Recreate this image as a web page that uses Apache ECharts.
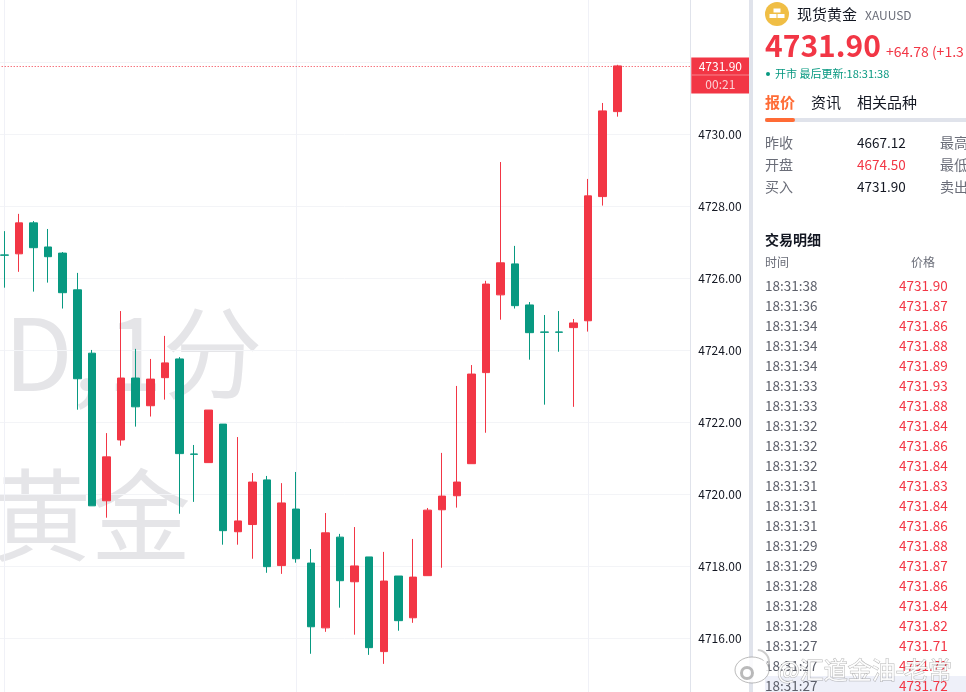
<!DOCTYPE html>
<html>
<head>
<meta charset="utf-8">
<style>html,body{margin:0;padding:0;background:#fff;overflow:hidden}#c{width:966px;height:692px}</style>
<script src="https://cdn.jsdelivr.net/npm/echarts@6/dist/echarts.min.js"></script>
</head>
<body>
<div id="c"></div>
<script>
const categories = ['17:49','17:50','17:51','17:52','17:53','17:54','17:55','17:56','17:57','17:58','17:59','18:00','18:01','18:02','18:03','18:04','18:05','18:06','18:07','18:08','18:09','18:10','18:11','18:12','18:13','18:14','18:15','18:16','18:17','18:18','18:19','18:20','18:21','18:22','18:23','18:24','18:25','18:26','18:27','18:28','18:29','18:30','18:31','18:32','18:33','18:34','18:35','18:36','18:37'];
const opens  = ['-',4726.65,4726.68,4727.54,4726.87,4726.70,4725.68,4723.92,4719.82,4721.51,4723.23,4722.46,4723.24,4723.76,4721.12,4720.88,4721.95,4718.96,4719.16,4720.40,4718.02,4719.59,4718.09,4716.29,4718.81,4717.57,4718.26,4715.63,4717.73,4716.57,4717.74,4719.57,4719.96,4720.85,4723.38,4725.54,4726.40,4725.26,4724.51,4724.51,4724.63,4724.82,4728.27,4730.63];
const closes = ['-',4726.64,4727.54,4726.85,4726.60,4725.60,4723.21,4719.68,4721.04,4723.23,4722.43,4723.20,4723.65,4721.13,4721.11,4722.34,4718.99,4719.26,4720.34,4717.99,4719.76,4718.21,4716.32,4718.93,4717.60,4718.01,4715.74,4717.59,4716.49,4717.70,4719.56,4719.95,4720.34,4723.34,4725.84,4726.43,4725.24,4724.49,4724.50,4724.50,4724.76,4728.29,4730.65,4731.90];
const lows   = ['-',4725.74,4726.18,4725.63,4725.88,4725.16,4722.35,4719.68,4719.35,4721.35,4721.88,4722.16,4722.63,4719.46,4719.79,4720.88,4718.60,4718.60,4718.21,4717.82,4717.79,4718.10,4715.57,4716.18,4716.85,4716.10,4715.54,4715.29,4716.21,4716.43,4717.74,4717.96,4719.63,4720.85,4721.71,4724.85,4725.16,4723.74,4722.49,4723.96,4722.43,4724.52,4728.02,4730.49];
const highs  = ['-',4727.31,4727.79,4727.59,4727.37,4726.73,4726.15,4724.01,4721.70,4725.09,4724.04,4723.76,4724.40,4723.81,4721.37,4722.34,4721.95,4721.59,4720.59,4720.51,4720.31,4720.62,4718.48,4719.48,4718.90,4719.09,4718.26,4718.40,4717.73,4718.76,4719.62,4721.15,4723.01,4723.59,4725.93,4729.23,4726.90,4725.34,4724.98,4725.09,4724.87,4728.76,4730.87,4731.93];
const lastPrice = 4731.90;
const priceLineLevel = 4731.885;
const countdown = '00:21';
const tradeTimes = ['18:31:38','18:31:36','18:31:34','18:31:34','18:31:34','18:31:33','18:31:33','18:31:32','18:31:32','18:31:32','18:31:31','18:31:31','18:31:31','18:31:29','18:31:29','18:31:28','18:31:28','18:31:28','18:31:27','18:31:27','18:31:27'];
const tradePrices = ['4731.90','4731.87','4731.86','4731.88','4731.89','4731.93','4731.88','4731.84','4731.86','4731.84','4731.83','4731.84','4731.86','4731.88','4731.87','4731.86','4731.84','4731.82','4731.71','4731.72','4731.72'];

const UP = '#F23645', DOWN = '#089981', FONT = '"Noto Sans CJK SC","Noto Sans",sans-serif';
const candles = opens.map((o, i) => [o, closes[i], lows[i], highs[i]]);

function txt(x, y, text, fill, size, extra) {
  return { type: 'text', x, y, z: 20, silent: true,
    style: Object.assign({ text, fill, font: (extra && extra.weight ? extra.weight + ' ' : '') + size + 'px ' + FONT, textVerticalAlign: 'middle', textAlign: 'left' }, extra && extra.style) };
}
const panel = [
  { type: 'rect', z: 10, silent: true, shape: { x: 749, y: 0, width: 217, height: 692 }, style: { fill: '#fff' } },
  { type: 'rect', z: 11, silent: true, shape: { x: 749, y: 0, width: 4, height: 692 }, style: { fill: '#E0E3EB' } },
  { type: 'circle', z: 20, silent: true, shape: { cx: 777, cy: 14, r: 12 }, style: { fill: '#F0BE45' } },
  { type: 'rect', z: 21, silent: true, shape: { x: 773.5, y: 8.5, width: 7, height: 4 }, style: { fill: '#fff' } },
  { type: 'rect', z: 21, silent: true, shape: { x: 769.5, y: 14, width: 7, height: 4 }, style: { fill: '#fff' } },
  { type: 'rect', z: 21, silent: true, shape: { x: 777.5, y: 14, width: 7, height: 4 }, style: { fill: '#fff' } },
  txt(797, 14, '现货黄金', '#131722', 15),
  txt(865, 15, 'XAUUSD', '#6A6D78', 12),
  txt(765, 46, '4731.90', UP, 30, { weight: 'bold' }),
  txt(886, 52, '+64.78 (+1.3', UP, 14),
  { type: 'circle', z: 20, silent: true, shape: { cx: 768, cy: 74, r: 2 }, style: { fill: DOWN } },
  txt(775, 74, '开市 最后更新:18:31:38', DOWN, 11),
  txt(765, 102, '报价', '#FF6B35', 15, { weight: 'bold' }),
  txt(811, 102, '资讯', '#131722', 15),
  txt(857, 102, '相关品种', '#131722', 15),
  { type: 'rect', z: 20, silent: true, shape: { x: 765, y: 118, width: 201, height: 4 }, style: { fill: '#E0E3EB' } },
  { type: 'rect', z: 21, silent: true, shape: { x: 765, y: 118, width: 30, height: 4, r: 2 }, style: { fill: '#FF6B35' } },
  txt(765, 143, '昨收', '#6A6D78', 14), txt(857, 143, '4667.12', '#131722', 13.5), txt(940, 143, '最高', '#6A6D78', 14),
  txt(765, 165, '开盘', '#6A6D78', 14), txt(857, 165, '4674.50', UP, 13.5), txt(940, 165, '最低', '#6A6D78', 14),
  txt(765, 187, '买入', '#6A6D78', 14), txt(857, 187, '4731.90', '#131722', 13.5), txt(940, 187, '卖出', '#6A6D78', 14),
  txt(765, 240, '交易明细', '#131722', 14, { weight: 'bold' }),
  txt(765, 262, '时间', '#6A6D78', 12), txt(911, 262, '价格', '#6A6D78', 12),
  { type: 'rect', z: 19, silent: true, shape: { x: 765, y: 676, width: 201, height: 16 }, style: { fill: '#EEF0F9' } }
];
tradeTimes.forEach((t, i) => {
  panel.push(txt(765, 286 + i * 20, t, '#5D606B', 13.5));
  panel.push(txt(899, 286 + i * 20, tradePrices[i], UP, 13.5));
});
const marks = [
  { type: 'text', x: 4, y: 353, z: -1, silent: true, style: { text: 'D,', fill: '#E5E5E8', font: '100px ' + FONT, textVerticalAlign: 'middle' } },
  { type: 'text', x: 107, y: 353, z: -1, silent: true, style: { text: '1分', fill: '#E5E5E8', font: '100px ' + FONT, textVerticalAlign: 'middle' } },
  { type: 'text', x: 191, y: 515, z: -1, silent: true, style: { text: '黄金', fill: '#E5E5E8', font: '100px ' + FONT, textAlign: 'right', textVerticalAlign: 'middle' } },
  { type: 'ellipse', z: 30, silent: true, shape: { cx: 752, cy: 670, rx: 17, ry: 13 }, style: { fill: 'rgba(255,255,255,0.82)', stroke: 'rgba(120,120,120,0.5)', lineWidth: 1 } },
  { type: 'ring', z: 31, silent: true, shape: { cx: 747, cy: 673, r: 7, r0: 4 }, style: { fill: 'rgba(130,130,130,0.55)' } },
  { type: 'arc', z: 30, silent: true, shape: { cx: 757, cy: 662, r: 8, startAngle: -1.5, endAngle: 0.2 }, style: { fill: 'none', stroke: 'rgba(255,255,255,0.9)', lineWidth: 2.5 } },
  { type: 'arc', z: 30, silent: true, shape: { cx: 757, cy: 662, r: 12, startAngle: -1.5, endAngle: 0.2 }, style: { fill: 'none', stroke: 'rgba(200,200,200,0.9)', lineWidth: 2 } },
  { type: 'text', x: 777, y: 670, z: 30, silent: true, style: { text: '@汇道金油-老常', fill: 'rgba(255,255,255,0.9)', font: '24px ' + FONT, textVerticalAlign: 'middle', stroke: 'rgba(110,110,110,0.5)', lineWidth: 1 } }
];

const chart = echarts.init(document.getElementById('c'), null, { renderer: 'canvas', width: 966, height: 692 });
chart.setOption({
  animation: false,
  backgroundColor: '#fff',
  grid: { left: -10.3, width: 700.6, top: -9.7, height: 720, containLabel: false, outerBoundsMode: 'none' },
  xAxis: {
    type: 'category', data: categories, boundaryGap: false,
    axisLine: { show: false }, axisTick: { show: false }, axisLabel: { show: false },
    splitLine: { show: true, interval: (i) => (i - 1) % 20 === 0, lineStyle: { color: '#F0F1F7', width: 1 } }
  },
  yAxis: {
    type: 'value', position: 'right', min: 4714, max: 4734, interval: 2, scale: true,
    axisLine: { show: true, lineStyle: { color: '#E0E3EB', width: 1 } }, axisTick: { show: false },
    axisLabel: { margin: 8, color: '#131722', fontSize: 12, fontFamily: FONT,
      formatter: (v) => (v >= 4732 || v <= 4714) ? '' : v.toFixed(2) },
    splitLine: { show: true, lineStyle: { color: '#F3F4F7', width: 1 } }
  },
  series: [{
    type: 'candlestick', data: candles, barWidth: 8, clip: false,
    itemStyle: { color: UP, color0: DOWN, borderColor: UP, borderColor0: DOWN, borderWidth: 1 },
    markLine: {
      silent: true, symbol: 'none', animation: false, precision: 3,
      lineStyle: { color: UP, type: [1, 2], width: 1 },
      data: [{ yAxis: priceLineLevel }],
      label: {
        show: true, position: 'end', distance: 1, offset: [0, 9], padding: 0, backgroundColor: UP,
        formatter: () => '{a|' + lastPrice.toFixed(2) + '}\n{s|}\n{b|' + countdown + '}',
        rich: {
          a: { width: 58, height: 17, lineHeight: 17, align: 'center', color: '#fff', fontSize: 12, fontFamily: FONT },
          s: { width: 58, height: 1, lineHeight: 1, backgroundColor: '#F7818C' },
          b: { width: 58, height: 18, lineHeight: 18, align: 'center', color: '#FBD0D4', fontSize: 12, fontFamily: FONT }
        }
      }
    }
  }],
  graphic: { elements: panel.concat(marks) }
});
</script>
</body>
</html>
